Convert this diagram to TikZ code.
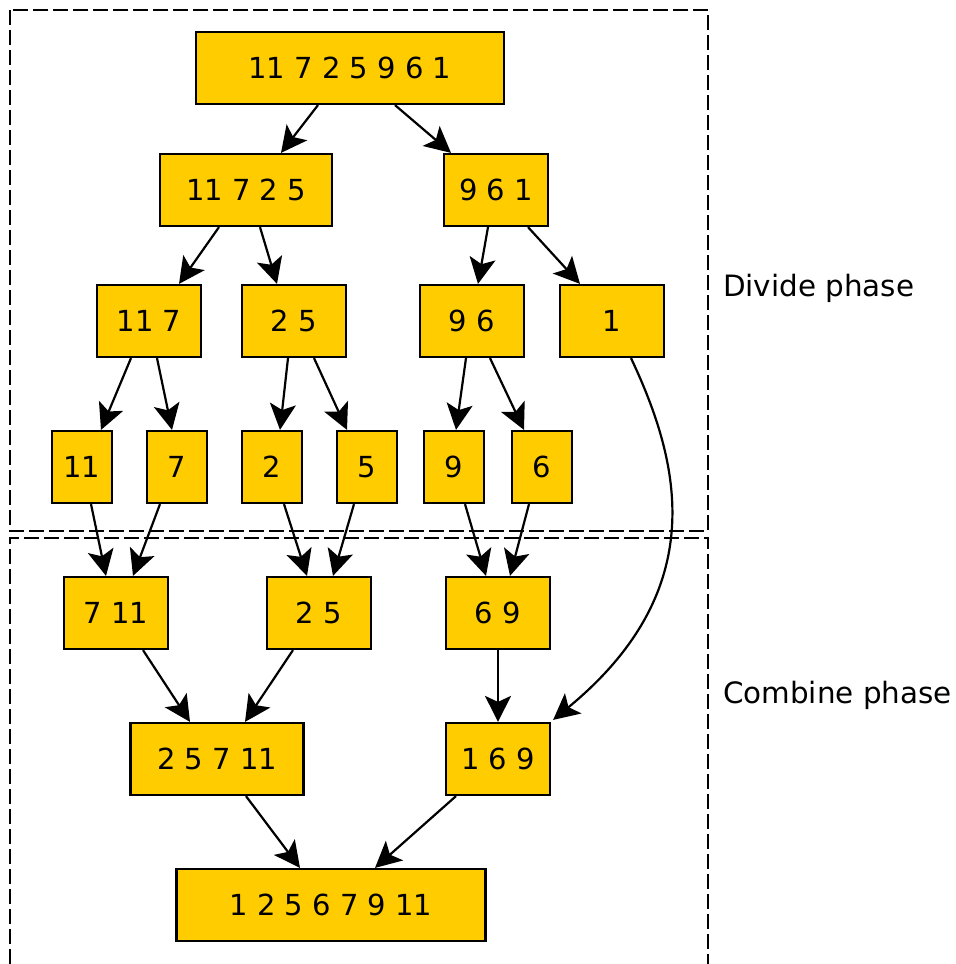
\documentclass[tikz,border=0pt]{standalone}
\usepackage{fontspec}
\setmainfont{DejaVu Sans}
\usetikzlibrary{arrows.meta}
\definecolor{SortGold}{HTML}{FFCC00}
\tikzset{
  listbox/.style={draw=black,fill=SortGold,line width=1.1pt,minimum height=36pt,
    inner sep=0pt,font=\fontsize{14.5}{17}\selectfont},
  flow/.style={-{Stealth[length=13pt,width=13pt,inset=3pt]},line width=1.1pt},
  phase/.style={draw=black,line width=1.1pt,dash pattern=on 7.5pt off 2.5pt},
  phaselabel/.style={anchor=west,font=\fontsize{14.7}{17}\selectfont}
}

\begin{document}
\begin{tikzpicture}[x=0.5pt,y=-0.5pt]
  \useasboundingbox (0,0) rectangle (956,964);
  % phase frames
  \draw[phase] (10,10) rectangle (708,531);
  \draw[phase] (10,964) -- (10,538) -- (708,538) -- (708,964);
  \node[phaselabel] (divlbl) at (716,288) {Divide phase};
  \node[phaselabel] (comblbl) at (716,695) {Combine phase};
  % divide
  \node[listbox,minimum width=154pt] (all) at (350,68) {11 7 2 5 9 6 1};
  \node[listbox,minimum width=86pt] (l4) at (246,190) {11 7 2 5};
  \node[listbox,minimum width=52pt] (r3) at (496,190) {9 6 1};
  \node[listbox,minimum width=52pt] (l2a) at (149,321) {11 7};
  \node[listbox,minimum width=52pt] (l2b) at (294,321) {2 5};
  \node[listbox,minimum width=52pt] (r2) at (472,321) {9 6};
  \node[listbox,minimum width=52pt] (r1) at (612,321) {1};
  \node[listbox,minimum width=30pt] (s11) at (82,467) {11};
  \node[listbox,minimum width=30pt] (s7) at (177,467) {7};
  \node[listbox,minimum width=30pt] (s2) at (272,467) {2};
  \node[listbox,minimum width=30pt] (s5) at (367,467) {5};
  \node[listbox,minimum width=30pt] (s9) at (454,467) {9};
  \node[listbox,minimum width=30pt] (s6) at (542,467) {6};
  % combine
  \node[listbox,minimum width=52pt] (m711) at (116,613) {7 11};
  \node[listbox,minimum width=52pt] (m25) at (319,613) {2 5};
  \node[listbox,minimum width=52pt] (m69) at (498,613) {6 9};
  \node[listbox,minimum width=86.5pt] (m4) at (217,759) {2 5 7 11};
  \node[listbox,minimum width=52pt] (m3) at (498,759) {1 6 9};
  \node[listbox,minimum width=154.5pt] (sorted) at (331,905) {1 2 5 6 7 9 11};

  \draw[flow] ([xshift=-16pt]all.south) -- ([xshift=17.5pt]l4.north);
  \draw[flow] ([xshift=22.5pt]all.south) -- ([xshift=-22.5pt]r3.north);
  \draw[flow] ([xshift=-13.5pt]l4.south) -- ([xshift=15pt]l2a.north);
  \draw[flow] ([xshift=7pt]l4.south) -- ([xshift=-8.5pt]l2b.north);
  \draw[flow] ([xshift=-4pt]r3.south) -- ([xshift=3pt]r2.north);
  \draw[flow] ([xshift=16pt]r3.south) -- ([xshift=-16pt]r1.north);
  \draw[flow] ([xshift=-9pt]l2a.south) -- ([xshift=9.5pt]s11.north);
  \draw[flow] ([xshift=4pt]l2a.south) -- ([xshift=-2.5pt]s7.north);
  \draw[flow] ([xshift=-3pt]l2b.south) -- ([xshift=4pt]s2.north);
  \draw[flow] ([xshift=10pt]l2b.south) -- ([xshift=-10pt]s5.north);
  \draw[flow] ([xshift=-3pt]r2.south) -- ([xshift=1pt]s9.north);
  \draw[flow] ([xshift=9pt]r2.south) -- ([xshift=-9pt]s6.north);
  \draw[flow] ([xshift=4.5pt]s11.south) -- ([xshift=-5pt]m711.north);
  \draw[flow] ([xshift=-8.5pt]s7.south) -- ([xshift=8.5pt]m711.north);
  \draw[flow] ([xshift=6pt]s2.south) -- ([xshift=-6pt]m25.north);
  \draw[flow] ([xshift=-6.5pt]s5.south) -- ([xshift=7pt]m25.north);
  \draw[flow] ([xshift=5.5pt]s9.south) -- ([xshift=-6pt]m69.north);
  \draw[flow] ([xshift=-6.5pt]s6.south) -- ([xshift=6pt]m69.north);
  \draw[flow] ([xshift=13.5pt]m711.south) -- ([xshift=-13.5pt]m4.north);
  \draw[flow] ([xshift=-13pt]m25.south) -- ([xshift=14pt]m4.north);
  \draw[flow] (m69.south) -- (m3.north);
  \draw[flow] ([xshift=9.5pt]r1.south) .. controls (681,464) and (711,590) .. ([xshift=1pt,yshift=1pt]m3.north east);
  \draw[flow] ([xshift=14.5pt]m4.south) -- ([xshift=-15.5pt]sorted.north);
  \draw[flow] ([xshift=-21pt]m3.south) -- ([xshift=22pt]sorted.north);
\end{tikzpicture}
\end{document}
